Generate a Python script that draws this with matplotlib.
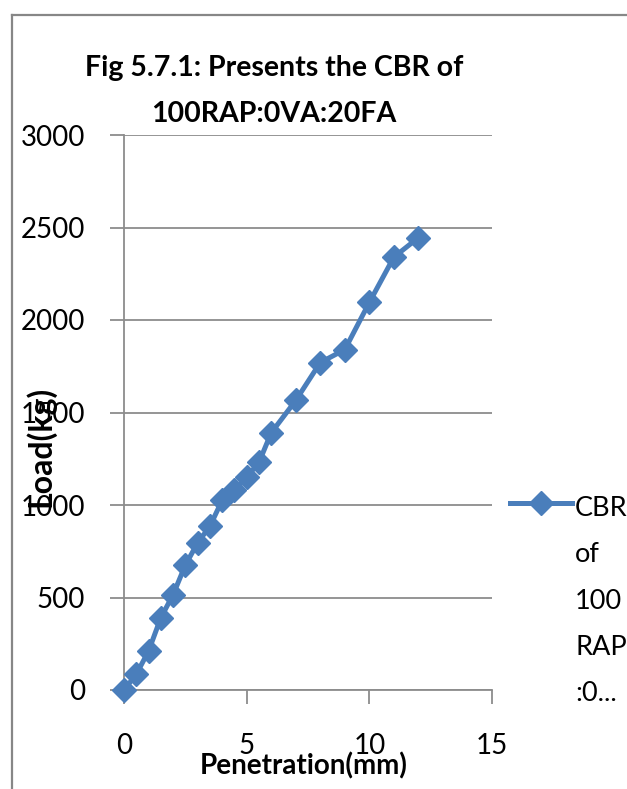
import matplotlib
matplotlib.use("Agg")
import matplotlib.pyplot as plt
from matplotlib.lines import Line2D

plt.rcParams['font.family'] = ['Lato', 'DejaVu Sans']

# CBR test: penetration (mm) vs load (kg)
penetration = [0, 0.5, 1, 1.5, 2, 2.5, 3, 3.5, 4, 4.5, 5, 5.5, 6, 7, 8, 9, 10, 11, 12]
load = [0, 85, 210, 390, 515, 675, 795, 885, 1025, 1080, 1150, 1230, 1390,
        1565, 1770, 1840, 2095, 2340, 2445]
x_ticks = [0, 5, 10, 15]
y_ticks = [0, 500, 1000, 1500, 2000, 2500, 3000]
title_lines = ["Fig 5.7.1: Presents the CBR of", "100RAP:0VA:20FA"]
series_lines = ["CBR", "of", "100", "RAP", ":0..."]

W, H = 627, 789
fig = plt.figure(figsize=(W / 100, H / 100), dpi=100)
fig.patch.set_facecolor('white')


def fx(px):
    return px / W


def fy(py):
    return 1 - py / H


# chart frame (top and left edges visible)
frame_col = '#878787'
fig.add_artist(Line2D([fx(12), 1.0], [fy(15), fy(15)], color=frame_col, lw=1.6,
                      transform=fig.transFigure))
fig.add_artist(Line2D([fx(12), fx(12)], [0, fy(15)], color=frame_col, lw=1.6,
                      transform=fig.transFigure))

x0, x1 = 124, 492
y0, y1 = 135, 690
ax = fig.add_axes([fx(x0), fy(y1), (x1 - x0) / W, (y1 - y0) / H])

blue = '#4A7EBB'
ax.plot(penetration, load, color=blue, lw=3.6, marker='D', markersize=12,
        markeredgecolor=blue, markerfacecolor=blue, clip_on=False, zorder=3)

ax.set_xlim(0, 15)
ax.set_ylim(0, 3000)
ax.set_xticks(x_ticks)
ax.set_yticks(y_ticks)
ax.grid(axis='y', color='#8c8c8c', lw=1.3)
ax.set_axisbelow(True)
for s in ['top', 'right']:
    ax.spines[s].set_visible(False)
for s in ['left', 'bottom']:
    ax.spines[s].set_color('#8c8c8c')
    ax.spines[s].set_linewidth(1.3)
ax.tick_params(axis='both', colors='#8c8c8c', length=10, width=1.3, labelsize=20,
               labelcolor='black')
ax.tick_params(axis='x', pad=21)
ax.tick_params(axis='y', pad=18)

# title, one baseline per line
for line, base in zip(title_lines, [76, 122]):
    fig.text(fx(274), fy(base), line, ha='center', va='baseline',
             fontsize=20.5, fontweight='bold')

fig.text(fx(304), fy(774), "Penetration(mm)", ha='center', va='baseline',
         fontsize=20, fontweight='bold')
fig.text(fx(40), fy(446), "Load(kg)", ha='center', va='center', rotation=90,
         fontsize=23, fontweight='bold')

# legend
fig.add_artist(Line2D([fx(510), fx(572)], [fy(503), fy(503)], color=blue, lw=3.6,
                      transform=fig.transFigure))
fig.add_artist(Line2D([fx(541)], [fy(503)], color=blue, marker='D', markersize=12,
                      transform=fig.transFigure))
for i, line in enumerate(series_lines):
    fig.text(fx(575), fy(516 + 46.3 * i), line, ha='left', va='baseline',
             fontsize=19.5)

fig.savefig('out.png', dpi=100)
